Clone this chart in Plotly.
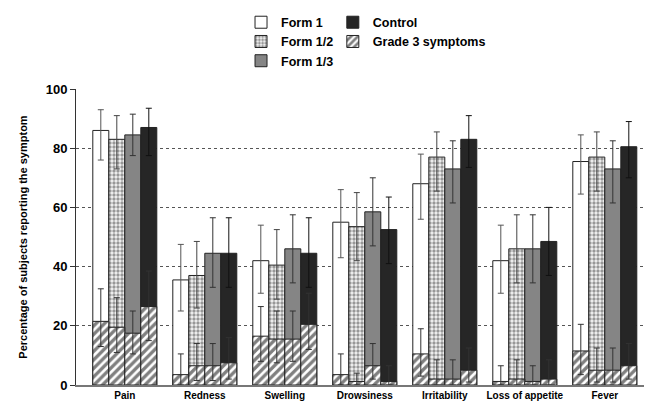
import plotly.graph_objects as go

categories = ["Pain", "Redness", "Swelling", "Drowsiness", "Irritability", "Loss of appetite", "Fever"]
y_ticks = [0, 20, 40, 60, 80, 100]

form1 = [86, 35.5, 42, 55, 68, 42, 75.5]
form1_hi = [93, 47.5, 54, 66, 78, 54, 84.5]
form1_lo = [76, 25, 31, 43, 56, 31, 64.5]

form12 = [83, 37, 40.5, 53.5, 77, 46, 77]
form12_hi = [91, 48.5, 52.5, 65, 85.5, 57.5, 85.5]
form12_lo = [73, 26, 29, 42, 65.5, 34.5, 65.5]

form13 = [84.5, 44.5, 46, 58.5, 73, 46, 73]
form13_hi = [91.5, 56.5, 57.5, 70, 82.5, 57.5, 82.5]
form13_lo = [77.5, 33, 34.5, 47, 61.5, 34.5, 61.5]

control = [87, 44.5, 44.5, 52.5, 83, 48.5, 80.5]
control_hi = [93.5, 56.5, 56.5, 63.5, 91, 60, 89]
control_lo = [77.5, 33, 33, 41, 73.5, 37, 70]

g3_form1 = [21.5, 3.5, 16.5, 3.5, 10.5, 1.2, 11.5]
g3_form1_hi = [32.5, 10.5, 26.5, 10.5, 19, 6.5, 20.5]
g3_form1_lo = [13, 0, 8, 0, 3, 0, 3.5]

g3_form12 = [19.5, 6.5, 15.5, 1.2, 2, 2, 5]
g3_form12_hi = [29.5, 14, 25, 4, 8.5, 8.5, 12.5]
g3_form12_lo = [11, 1.5, 7.5, 0, 0, 0, 1]

g3_form13 = [17.5, 6.5, 15.5, 6.5, 2, 1.2, 5]
g3_form13_hi = [25, 14, 25, 14, 8.5, 6.5, 12.5]
g3_form13_lo = [10.5, 1.5, 8, 2, 0, 0, 1]

g3_control = [26.5, 7.5, 20.5, 1.2, 5, 2, 6.5]
g3_control_hi = [38.5, 16, 31, 6.5, 12.5, 8.5, 14]
g3_control_lo = [15, 2, 12, 0, 1, 0, 2]

FONT = "Liberation Sans, Arial, sans-serif"
BAR_W = 0.2


def err(vals, hi, lo, color):
    return dict(type="data", symmetric=False,
                array=[round(h - v, 3) for v, h in zip(vals, hi)],
                arrayminus=[round(max(v - l, 0), 3) for v, l in zip(vals, lo)],
                color=color, thickness=1, width=3)


fig = go.Figure()

mains = [
    ("Form 1", form1, form1_hi, form1_lo, dict(color="white"), "legend", "#555555"),
    ("Form 1/2", form12, form12_hi, form12_lo,
     dict(color="#d0d0d0", pattern=dict(shape=".", fgcolor="#3a3a3a", bgcolor="#f4f4f4", size=4, solidity=0.55)),
     "legend", "#444444"),
    ("Form 1/3", form13, form13_hi, form13_lo, dict(color="#858585"), "legend", "#333333"),
    ("Control", control, control_hi, control_lo, dict(color="#262626"), "legend2", "#111111"),
]

for i, (name, vals, hi, lo, mk, leg, ecol) in enumerate(mains):
    marker = dict(mk)
    marker["line"] = dict(color="#222222", width=1)
    fig.add_trace(go.Bar(
        x=categories, y=vals, name=name, width=BAR_W, offset=-0.4 + BAR_W * i,
        marker=marker, error_y=err(vals, hi, lo, ecol), legend=leg,
    ))

g3s = [
    (g3_form1, g3_form1_hi, g3_form1_lo),
    (g3_form12, g3_form12_hi, g3_form12_lo),
    (g3_form13, g3_form13_hi, g3_form13_lo),
    (g3_control, g3_control_hi, g3_control_lo),
]
for i, (vals, hi, lo) in enumerate(g3s):
    fig.add_trace(go.Bar(
        x=categories, y=vals, name="Grade 3 symptoms", width=BAR_W, offset=-0.4 + BAR_W * i,
        marker=dict(color="white",
                    pattern=dict(shape="/", fgcolor="#000000", bgcolor="white", size=6, solidity=0.55),
                    line=dict(color="#222222", width=1)),
        error_y=err(vals, hi, lo, "#333333"),
        legend="legend2", showlegend=(i == 0),
    ))

fig.update_layout(
    width=652, height=409,
    barmode="overlay",
    paper_bgcolor="white", plot_bgcolor="white",
    margin=dict(l=68, r=12, t=81, b=32, autoexpand=False),
    font=dict(family=FONT, color="black", size=12),
    showlegend=True,
    legend=dict(x=0.2885, y=1.275, xanchor="left", yanchor="top",
                font=dict(family=FONT, size=12.5, weight="bold"), tracegroupgap=0, itemwidth=30,
                bgcolor="rgba(0,0,0,0)"),
    legend2=dict(x=0.449, y=1.275, xanchor="left", yanchor="top",
                 font=dict(family=FONT, size=12.5, weight="bold"), tracegroupgap=0, itemwidth=30,
                 bgcolor="rgba(0,0,0,0)"),
)

fig.update_xaxes(
    type="category", range=[-0.61, 6.54], automargin=False,
    showline=True, linecolor="#777777", linewidth=1.5,
    ticks="", showgrid=False,
    tickfont=dict(family=FONT, size=10, weight="bold"),
)
fig.update_yaxes(
    range=[0, 100], tickvals=y_ticks, automargin=False,
    showline=True, linecolor="#333333", linewidth=1,
    ticks="outside", ticklen=5, tickcolor="#333333",
    showgrid=True, gridcolor="#555555", griddash="dot", gridwidth=1,
    zeroline=False,
    tickfont=dict(family=FONT, size=13, weight="bold"),
    title=dict(text="Percentage of subjects reporting the symptom",
               font=dict(family=FONT, size=11, weight="bold")),
)

fig.write_html("out.html")
